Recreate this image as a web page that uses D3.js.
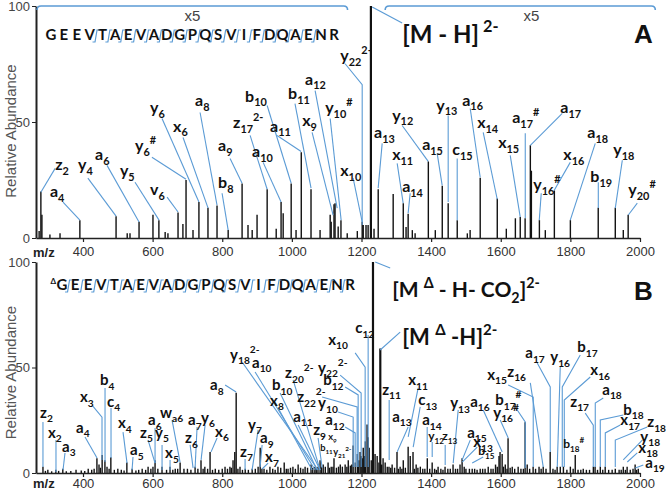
<!DOCTYPE html>
<html><head><meta charset="utf-8">
<script src="https://cdn.jsdelivr.net/npm/d3@7"></script>
<style>body{margin:0;background:#fff}svg{display:block}</style>
</head><body>
<svg id="c" width="666" height="491"></svg>
<script>
// ---------------- data ----------------
const xTicks = [400, 600, 800, 1000, 1200, 1400, 1600, 1800, 2000];
const yTicks = [0, 50, 100];
const sequence = "GEEVTAEVADGPQSVIFDQAENR".split("");
const cleavageA = [3,4,5,6,7,8,9,10,11,12,13,14,15,16,17,18,19,20];
const cleavageB = [0,1,2,3,4,5,6,7,8,9,10,11,12,13,14,15,16,17,18,19,20,21];

// [m/z, relative abundance]
const peaksA = [[274,3],[279,20],[282,10],[305,1.5],[334,2],[391,7.7],[495,9.4],[527,2],[535,2],[561,7],[601,10],[618,7.7],[636,2.6],[644,2],[673,11],[687,6],[696,25],[716,3.4],[733,15.5],[759,13],[785,14],[817,3.4],[857,23.5],[874,5.6],[886,3.4],[900,10],[929,21],[955,4],[969,15.5],[975,10.7],[998,23.5],[1012,3.5],[1027,37],[1055,21],[1081,3.4],[1110,10],[1113,7],[1121,14.5],[1124,15],[1133,5],[1141,7.7],[1159,2],[1188,3],[1202,7],[1205,5.6],[1213,5.6],[1219,5.6],[1227,100],[1236,4],[1248,21],[1291,19],[1320,15],[1328,4.7],[1334,10.5],[1346,3.4],[1354,2],[1392,33],[1412,3.4],[1432,22.5],[1449,15],[1475,7.7],[1504,2],[1512,3.4],[1541,26],[1590,17],[1616,4],[1642,8.5],[1656,9],[1670,8.5],[1685,40],[1688,29],[1711,7.7],[1728,3.4],[1754,20.5],[1800,7.7],[1880,13],[1929,13],[1952,3.4],[1966,10]];

const peaksB = [[285,3],[299,1.5],[322,1.5],[342,2],[380,1.5],[415,2],[440,7],[446,4],[455,8.5],[463,6],[469,3],[480,7.5],[500,2],[526,5],[541,2],[570,2],[587,3],[601,3],[607,6],[627,3],[650,3],[665,2],[679,5],[700,2],[722,3],[739,6],[750,3],[765,10],[780,2],[808,3],[822,3],[831,6],[836,10],[840,38],[851,3],[866,2],[886,2],[903,3],[909,12],[914,2],[937,3],[960,3],[978,5],[989,2],[1003,3],[1018,4],[1038,3],[1055,4],[1066,3],[1075,3],[1081,6],[1090,4],[1104,5],[1113,3],[1121,7],[1139,4],[1153,4],[1162,6],[1176,13],[1188,9],[1196,10],[1199,8],[1205,12],[1211,15],[1216,23],[1219,17],[1222,12],[1233,100],[1239,9],[1245,8],[1254,59],[1262,7],[1268,5],[1279,3],[1288,4],[1302,10],[1311,3],[1320,6],[1334,12.5],[1340,8],[1348,10],[1357,4],[1369,3],[1389,7],[1403,5],[1420,3],[1440,3],[1463,4],[1483,4],[1489,7],[1495,3],[1518,2],[1541,2],[1564,3],[1585,4],[1595,8],[1598,10],[1604,9],[1613,4],[1621,16.5],[1633,3],[1650,3],[1670,24],[1676,4],[1693,3],[1710,3],[1722,3],[1742,10],[1762,3],[1771,3],[1780,3],[1800,3],[1814,8.5],[1837,2],[1866,3],[1871,3],[1886,3],[1900,3],[1929,2],[1952,3],[1963,3],[1986,4],[1995,2]];
// small baseline peaks of spectrum B
const noiseB = [[292,1],[310,0.8],[330,1],[352,0.8],[365,1],[395,1.2],[405,1],[425,1.5],[432,2],[450,2.5],[475,2],[490,1.5],[510,1.5],[518,1.2],[552,1.2],[560,1.5],[580,1.5],[595,2],[615,2],[640,1.5],[658,1.5],[672,2],[690,2],[710,1.5],[730,2],[745,2],[758,2],[772,1.5],[790,1.5],[800,2],[815,2],[826,2.5],[845,2],[858,1.5],[875,1.5],[895,2],[920,2],[928,1.5],[945,2],[952,1.5],[968,2.5],[984,2],[996,2.5],[1010,2],[1025,2.5],[1032,2],[1045,2.5],[1060,2.5],[1070,2],[1085,3],[1096,3],[1108,2.5],[1118,3],[1128,2.5],[1134,3],[1145,3],[1158,3],[1168,3.5],[1172,4],[1182,5],[1192,6],[1202,7],[1208,8],[1228,6],[1250,5],[1258,4],[1274,3],[1284,2.5],[1295,2.5],[1306,2],[1316,2],[1326,2.5],[1352,2],[1362,2.5],[1376,2],[1382,2],[1396,2],[1410,2],[1415,1.5],[1428,2],[1434,1.5],[1448,2],[1455,2],[1470,2],[1476,2],[1500,2],[1510,2],[1525,2],[1532,1.5],[1548,2],[1555,2],[1572,2],[1578,2],[1590,3],[1608,3],[1618,2],[1627,2.5],[1640,2],[1658,2],[1665,2],[1683,2],[1700,2],[1716,2],[1730,2],[1750,2],[1756,1.5],[1790,1.5],[1808,2],[1822,1.5],[1830,1.5],[1846,1.5],[1855,1.5],[1878,1.5],[1893,1.5],[1910,1.5],[1920,1.5],[1940,1.5],[1946,1.5],[1958,1.5],[1972,1.5],[1980,2],[1990,1.5]];

// ion labels: [ion, subscript, superscript, label m/z, label abundance, leader points [[m/z, abundance]...], size]
const labelsA = [
 ["z","2","",320,29.2,[[320,30],[279,19.7]]],
 ["a","4","",305,17.6,[[342.6,15.5],[391,7.7]]],
 ["y","4","",386,29.2,[[414,25.8],[495,9.4]]],
 ["a","6","",434.5,33.5,[[469,31.3],[561,6.9]]],
 ["y","5","",506,26.6,[[549.5,24],[618.5,7.7]]],
 ["v","6","",592.6,18.5,[[641.5,17.6],[673,11.2]]],
 ["y","6","#",549.5,37.3,[[598,34.8],[696,25.3]]],
 ["y","6","",592.6,53.7,[[627,51.5],[733,15.5]]],
 ["x","6","",658.7,45.9,[[687.4,43.3],[759.3,12.9]]],
 ["a","8","",722,56.7,[[736.3,54.1],[785,14.2]]],
 ["b","8","",788,21.5,[[799.5,19.3],[817,3.4]]],
 ["a","9","",788,37.3,[[822.5,34.3],[857,23.6]]],
 ["z","17","2-",831,47.2,[[880,44.2],[929,21]]],
 ["a","10","",885.7,34.8,[[917.4,32.6],[969,15.5]]],
 ["b","10","",865.6,58.8,[[928.9,57.1],[998,23.6]]],
 ["a","11","",937.5,45.9,[[957.5,44.2],[1026.6,37.3]]],
 ["b","11","",989,59.7,[[1009,57.9],[1055,21.5]]],
 ["x","9","",1029.5,48.1,[[1058,45.5],[1118.5,9.9]]],
 ["a","12","",1038,66.1,[[1066.8,63.5],[1130,12.9]]],
 ["y","10","#",1095.6,53.7,[[1110,51.5],[1141.5,7.7]]],
 ["x","10","",1139,26.6,[[1176,25.8],[1202,6.9]]],
 ["y","22","2-",1139,76.4,[[1153,75.1],[1202,66.1],[1202,5.6]]],
 ["a","13","",1236,42.9,[[1259.4,40.8],[1247.9,21.5]]],
 ["x","11","",1288,33.5,[[1302.5,32.2],[1319.7,15]]],
 ["a","14","",1316.8,19.7,[[1339.8,19.3],[1334,10.7]]],
 ["y","12","",1288,50.6,[[1316.8,48.5],[1391.6,33]]],
 ["a","15","",1374.3,37.8,[[1417.4,36.5],[1431.8,22.7]]],
 ["y","13","",1414.6,54.9,[[1449,52.8],[1449,15.5]]],
 ["c","15","",1460.5,35.6,[[1474.9,34.3],[1474.9,7.7]]],
 ["a","16","",1489.3,57.1,[[1512.3,55.8],[1541,26.2]]],
 ["x","14","",1532.4,47.2,[[1549.6,45.5],[1589.9,16.7]]],
 ["x","15","",1592.7,38.6,[[1627.2,35.6],[1656,9]]],
 ["a","17","#",1633,49.4,[[1670.4,45.1],[1670.4,8.6]]],
 ["a","17","",1771,53.7,[[1776.7,53.7],[1685,39.9]]],
 ["y","16","#",1693.3,20.6,[[1716.3,19.3],[1710.6,7.7]]],
 ["x","16","",1779.6,33.5,[[1799.7,32.6],[1753.7,20.6]]],
 ["a","18","",1848.5,42.9,[[1871.5,40.8],[1799.7,7.7]]],
 ["b","19","",1857.2,24,[[1880.2,24],[1880.2,12.9]]],
 ["y","18","",1923.3,35.6,[[1949.2,33.5],[1929,12.9]]],
 ["y","20","#",1966.4,18.5,[[1992.2,15],[1966.4,9.9]]]
];

const labelsB = [
 ["z","2","",276.5,26.1,[[285,24.2],[285,2.8]]],
 ["x","2","",299.5,16.6,[[322.4,15.6],[322.4,0.5]]],
 ["a","3","",339.7,10,[[348.3,9.5],[342.6,1.4]]],
 ["a","4","",380,19,[[405.8,17.1],[440.3,7.1]]],
 ["x","3","",391.4,33.6,[[425.9,32.2],[454.6,26.5],[454.6,6.2]]],
 ["b","4","",448.9,41.7,[[463.3,40.3],[463.3,5.2]]],
 ["c","4","",469,31.3,[[480.5,30.8],[480.5,7.1]]],
 ["x","4","",500.6,21.3,[[515,19.4],[526.5,4.7]]],
 ["a","5","",535.1,8.5,[[543.7,7.6],[540.9,1.4]]],
 ["z","5","",563.9,16.6,[[586.9,15.6],[607,4.7]]],
 ["a","6","",586.9,22.7,[[607,21.3],[607,4.7]]],
 ["y","5","",607,16.6,[[627.1,13.3],[627.1,1.4]]],
 ["x","5","",635.7,7.1,[[650.1,6.2],[650.1,1.4]]],
 ["w","a6","",621.3,26.1,[[655.8,25.1],[678.8,5.2]]],
 ["a","7","",701.8,22.7,[[727.7,21.8],[722,2.4]]],
 ["y","6","",739.2,23.7,[[750.7,22.7],[739.2,6.2]]],
 ["z","6","",693.2,14.2,[[707.6,13.3],[716.2,2.4]]],
 ["x","6","",779.4,17.1,[[785.2,16.6],[767.9,10]]],
 ["a","8","",765,39.3,[[808.2,41.7],[839.8,38.4]]],
 ["y","18","2-",822.5,53.6,[[857,52.6],[1075.4,1.4]]],
 ["a","10","",885.7,49.8,[[894.4,47.9],[1066.8,1.4]]],
 ["b","10","",943.2,39.3,[[966.2,37.9],[1072.6,1.4]]],
 ["x","8","",937.5,31.8,[[960.5,30.8],[1058.2,1.4]]],
 ["z","20","2-",980.6,45,[[1003.6,44.1],[1081.2,1.4]]],
 ["a","11","",1003.6,24.2,[[1018,22.7],[1081.2,1.4]]],
 ["z","22","2-",1015.1,33.6,[[1086.9,36],[1187.5,31.3],[1187.5,2.8]]],
 ["y","22","2-",1075.4,47.4,[[1138.7,46.4],[1199,37.9],[1199,2.8]]],
 ["b","12","",1089.8,41.7,[[1153,40.8],[1190.4,37],[1190.4,2.8]]],
 ["y","10","",1075.4,30.8,[[1132.9,28.9],[1176.1,26.5],[1176.1,2.8]]],
 ["a","12","",1095.6,22.7,[[1153,21.8],[1181.8,19],[1181.8,2.8]]],
 ["z","9","",1061.1,18,[[1075.4,16.6],[1086.9,2.4]]],
 ["x","9","",1104.2,15.6,[],"s"],
 ["b","11","",1081.2,10.4,[],"s"],
 ["y","21","2-",1118.5,8.5,[],"s"],
 ["x","10","",1104.2,60.7,[[1181.8,56.9],[1210.5,50.2],[1210.5,2.8]]],
 ["c","12","",1181.8,66.3,[[1219.1,65.4],[1219.1,2.8]]],
 ["y","7","",874.2,20.4,[[903,20.4],[885.7,1.4]]],
 ["a","9","",908.7,14.2,[[914.5,13.3],[908.7,2.8]]],
 ["z","7","",851.3,7.6,[[865.6,6.6],[865.6,1.4]]],
 ["x","7","",923.1,5.2,[[931.7,4.7],[914.5,1.9]]],
 ["z","11","",1259.4,37,[[1279.5,34.6],[1279.5,6.2]]],
 ["a","13","",1288.1,24.2,[[1334.1,21.8],[1302.5,10]]],
 ["x","11","",1334.1,41.7,[[1362.8,40.3],[1334.1,17.1]]],
 ["c","13","",1362.8,32.2,[[1368.6,31.3],[1348.5,12.3]]],
 ["a","14","",1374.3,22.7,[[1388.7,21.8],[1388.7,7.6]]],
 ["y","12","",1391.6,15.6,[[1403.1,14.7],[1403.1,7.6]],"m"],
 ["z","13","",1431.8,15.6,[[1440.4,13.3],[1440.4,3.8]],"m"],
 ["y","13","",1454.8,30.8,[[1477.8,29.9],[1463.4,4.7]]],
 ["a","16","",1512.3,31.3,[[1549.6,29.9],[1604.2,10]]],
 ["a","15","",1503.7,16.6,[[1512.3,15.6],[1489.3,6.2]]],
 ["x","13","",1520.9,12.3,[[1532.4,12.3],[1489.3,5.2]]],
 ["b","15","",1535.3,8.5,[[1549.6,7.6],[1518,4.7]],"m"],
 ["b","17","#",1584.1,32.2,[[1641.6,31.3],[1670.4,24.2],[1670.4,2.4]]],
 ["y","16","#",1578.4,26.1,[[1598.5,25.1],[1621.5,16.6]]],
 ["x","15","",1561.1,44.1,[[1621.5,41.7],[1693.3,36],[1693.3,2.8]]],
 ["z","16","",1618.6,45.5,[[1684.9,42.7],[1722.1,2.8]]],
 ["a","17","",1670.4,54.5,[[1704.8,52.1],[1742.2,40.8],[1742.2,10]]],
 ["y","16","",1742.2,52.6,[[1770.9,50.2],[1762.3,2.8]]],
 ["b","17","",1819.8,57.3,[[1828.4,55.9],[1776.7,40.8],[1776.7,2.8]]],
 ["x","16","",1857.2,46.4,[[1857.2,45.5],[1782.5,34.6],[1782.5,2.8]]],
 ["z","17","",1799.7,31.3,[[1842.8,28.4],[1865.8,22.7],[1865.8,2.8]]],
 ["a","18","",1891.6,37,[[1894.5,35.5],[1871.5,33.2],[1871.5,2.8]]],
 ["b","18","",1952,27.5,[[1952,27.5],[1885.9,25.1],[1885.9,2.8]]],
 ["x","17","",1943.4,22.7,[[1943.4,22.7],[1900.3,19],[1900.3,2.8]]],
 ["z","18","",2021,21.8,[[2021,21.8],[1929,15.6],[1929,2.8]]],
 ["y","18","",2000.9,14.7,[[2006.6,15.6],[1952,6.2]]],
 ["x","18","",1995.1,9.5,[[1992.2,9.5],[1963.5,5.2]]],
 ["a","19","",2015.2,2.4,[[2009.5,3.8],[1986.5,2.4]]],
 ["b","18","#",1779.6,11.8,[],"m"]
];

// precursor annotations: text parts, label m/z, label abundance, leader
const precursorA = [
 {parts:[["[M - H]","n"],[" 2-","sup"]], mz:1316.8, ab:84.1, lead:[[1230.6,99.6],[1316.8,92.7]], size:24}
];
const precursorB = [
 {parts:[["[M ","n"],["\u0394","sup"],[" - H- CO","n"],["2","sub"],["]","n"],["2-","sup"]], mz:1288.1, ab:83.4, lead:[[1239.3,100],[1282.4,97.2]], size:21},
 {parts:[["[M ","n"],["\u0394","sup"],[" -H]","n"],["2-","sup"]], mz:1316.8, ab:60.7, lead:[[1253.6,58.3],[1311.1,66.8]], size:22}
];
// x5 magnification brackets [from m/z, to m/z, label m/z]
const bracketsA = [[268, 1160, 714], [1268, 2044, 1688]];

// ---------------- drawing ----------------
const svg = d3.select("#c");
const BLUE = "#5b9bd5";
const LABEL_FONT = "Lato, 'Open Sans', sans-serif";
const AXIS_FONT = "'Liberation Sans', Arial, sans-serif";

const x = d3.scaleLinear().domain([265, 2000]).range([36, 640]);

function rich(textSel, parts, size) {
  let cur = 0;
  parts.forEach(([t, m]) => {
    const target = m === "sub" ? size * 0.3 : m === "sup" ? -size * 0.45 : 0;
    textSel.append("tspan")
      .attr("dy", target - cur)
      .attr("font-size", m === "n" ? size : size * 0.68)
      .text(t);
    cur = target;
  });
}

function panel(opts) {
  const g = svg.append("g");
  const y = d3.scaleLinear().domain([0, 100]).range(opts.yRange);
  const line = d3.line().x(d => x(d[0])).y(d => y(d[1]));

  // peaks
  const allPeaks = opts.noise ? opts.noise.concat(opts.peaks) : opts.peaks;
  g.append("g").selectAll("line").data(allPeaks).join("line")
    .attr("x1", d => x(d[0])).attr("x2", d => x(d[0]))
    .attr("y1", y(0)).attr("y2", d => y(d[1]))
    .attr("stroke", "#111")
    .attr("stroke-width", d => d[1] >= 50 ? 2.2 : 1.4);

  // leaders
  g.append("g").selectAll("path").data(opts.labels.filter(d => d[5].length))
    .join("path")
    .attr("d", d => line(d[5]))
    .attr("fill", "none").attr("stroke", BLUE).attr("stroke-width", 1.1);

  // ion labels
  const sizes = {L: opts.labelSize, m: opts.labelSize * 0.8, s: opts.labelSize * 0.62};
  opts.labels.forEach(d => {
    const sz = sizes[d[6] || "L"];
    const t = g.append("text")
      .attr("x", x(d[3])).attr("y", y(d[4]))
      .attr("font-family", LABEL_FONT).attr("font-weight", 700)
      .attr("fill", "#111");
    const parts = [[d[0], "n"], [d[1], "sub"]];
    if (d[2]) parts.push([d[2], "sup"]);
    rich(t, parts, sz);
  });

  // precursor labels
  opts.precursors.forEach(p => {
    g.append("path").attr("d", line(p.lead)).attr("fill", "none")
      .attr("stroke", BLUE).attr("stroke-width", 1.1);
    const t = g.append("text").attr("x", x(p.mz)).attr("y", y(p.ab))
      .attr("font-family", LABEL_FONT).attr("font-weight", 700).attr("fill", "#111")
      .attr("xml:space", "preserve");
    rich(t, p.parts, p.size);
  });

  // axes
  const xAxis = d3.axisBottom(x).tickValues(xTicks).tickFormat(d3.format("d"))
    .tickSize(4).tickPadding(opts.tickPad).tickSizeOuter(0);
  const gx = g.append("g").attr("transform", `translate(0,${y(0)})`).call(xAxis);
  gx.select(".domain").attr("stroke", "#222").attr("stroke-width", 1.6);
  gx.selectAll(".tick line").attr("stroke", "#222").attr("stroke-width", 1.2);
  gx.selectAll("text").attr("font-family", AXIS_FONT).attr("font-size", 13).attr("fill", "#333");
  g.append("text").attr("x", 33).attr("y", y(0) + opts.mzOffset)
    .attr("font-family", AXIS_FONT).attr("font-weight", 700).attr("font-size", 13)
    .attr("fill", "#222").text("m/z");

  const yAxis = d3.axisLeft(y).tickValues(yTicks).tickSize(4).tickPadding(2).tickSizeOuter(0);
  const gy = g.append("g").attr("transform", `translate(36,0)`).call(yAxis);
  gy.select(".domain").attr("stroke", "#222").attr("stroke-width", 2);
  gy.selectAll(".tick line").attr("stroke", "#222");
  gy.selectAll("text").attr("font-family", AXIS_FONT).attr("font-size", 13).attr("fill", "#444");

  g.append("text")
    .attr("transform", `translate(16,${(y(0) + y(100)) / 2 + opts.titleShift}) rotate(-90)`)
    .attr("text-anchor", "middle")
    .attr("font-family", AXIS_FONT).attr("font-size", 15).attr("fill", "#555")
    .text("Relative Abundance");

  // sequence
  const seqScale = d3.scalePoint().domain(d3.range(sequence.length)).range(opts.seqRange);
  const seqY = opts.seqY;
  g.append("g").selectAll("text").data(sequence).join("text")
    .attr("x", (d, i) => seqScale(i)).attr("y", seqY)
    .attr("text-anchor", "middle")
    .attr("font-family", LABEL_FONT).attr("font-weight", 700).attr("font-size", 15)
    .attr("fill", "#111").text(d => d);
  if (opts.delta) {
    g.append("text").attr("x", seqScale(0) - 6).attr("y", seqY - 6)
      .attr("text-anchor", "end").attr("font-family", LABEL_FONT).attr("font-weight", 700)
      .attr("font-size", 8).attr("fill", "#111").text("\u0394");
  }
  const step = seqScale.step();
  g.append("g").selectAll("path").data(opts.cleavage).join("path")
    .attr("d", i => {
      const cx = seqScale(i) + step / 2;
      return `M${cx - 3.5},${seqY + 2} L${cx - 1},${seqY + 2} L${cx + 1},${seqY - 10} L${cx + 3.5},${seqY - 10}`;
    })
    .attr("fill", "none").attr("stroke", BLUE).attr("stroke-width", 1.2);

  // panel letter
  g.append("text").attr("x", 634).attr("y", opts.letterY)
    .attr("font-family", "'Liberation Sans', Arial, sans-serif").attr("font-weight", 700)
    .attr("font-size", 26).attr("fill", "#111").text(opts.letter);

  // brackets
  (opts.brackets || []).forEach(b => {
    const y0 = y(100);
    g.append("path")
      .attr("d", `M${x(b[0])},${y0 + 4} Q${x(b[0])},${y0} ${x(b[0]) + 4},${y0} L${x(b[1]) - 4},${y0} Q${x(b[1])},${y0} ${x(b[1])},${y0 + 4}`)
      .attr("fill", "none").attr("stroke", BLUE).attr("stroke-width", 1.6);
    g.append("text").attr("x", x(b[2])).attr("y", y0 + 15).attr("text-anchor", "middle")
      .attr("font-family", AXIS_FONT).attr("font-size", 15).attr("fill", "#444").text("x5");
  });
}

panel({yRange: [238, 6], peaks: peaksA, labels: labelsA, precursors: precursorA,
  labelSize: 16, seqRange: [51, 334], seqY: 40, cleavage: cleavageA, letter: "A", letterY: 43,
  brackets: bracketsA, tickPad: 5, mzOffset: 19, titleShift: 9});
panel({yRange: [473, 262], peaks: peaksB, noise: noiseB, labels: labelsB, precursors: precursorB,
  labelSize: 15, seqRange: [62, 350], seqY: 290, cleavage: cleavageB, letter: "B", letterY: 300,
  delta: true, tickPad: 2, mzOffset: 15, titleShift: 5});
</script>
</body></html>
